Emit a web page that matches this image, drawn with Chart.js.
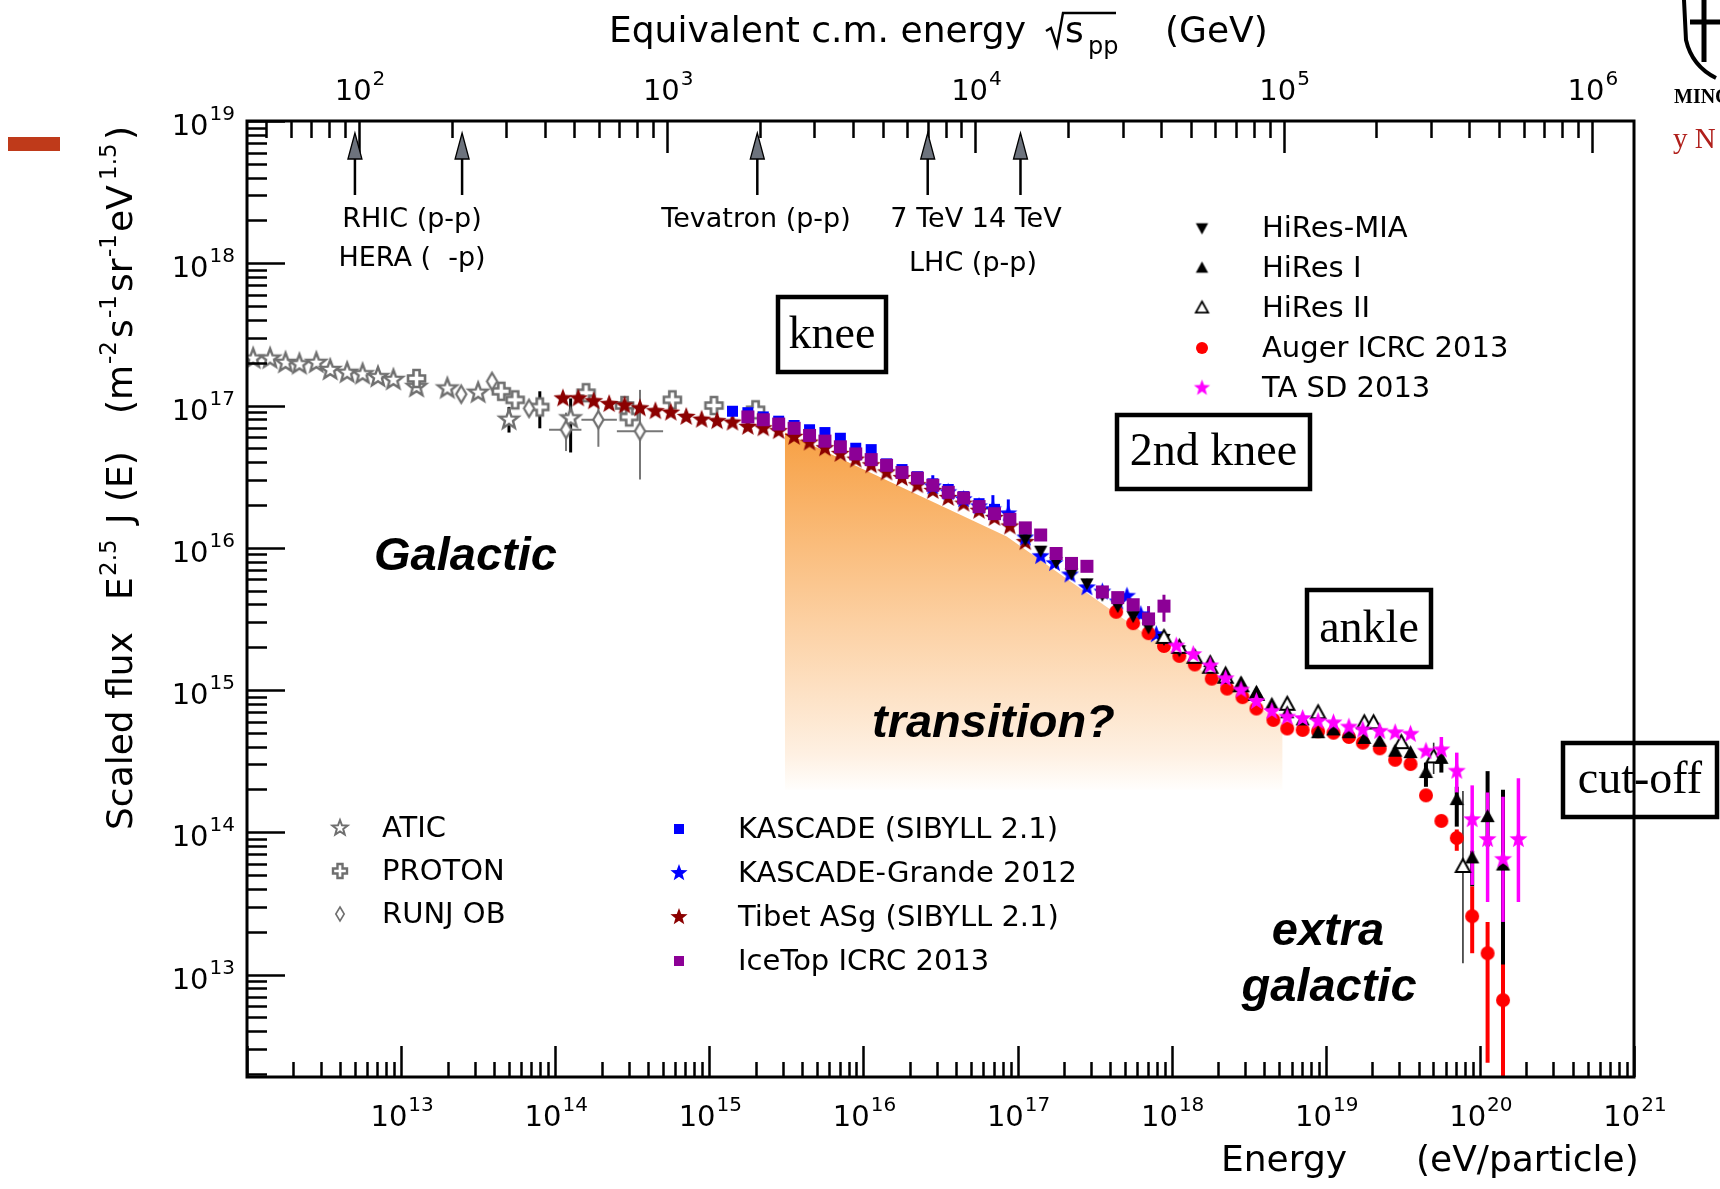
<!DOCTYPE html>
<html><head><meta charset="utf-8">
<script src="https://cdn.jsdelivr.net/npm/chart.js@4.4.1/dist/chart.umd.min.js"></script>
<style>html,body{margin:0;padding:0;background:#fff;}canvas{display:block}</style>
</head><body>
<canvas id="c" width="1720" height="1189"></canvas>
<script>
// ---------------- DATA (log10 values) ----------------
const X_RANGE_LOG = [12, 21];          // energy axis, log10(E/eV)
const Y_RANGE_LOG = [12.28, 19];       // scaled flux axis, log10
const PROTON_MASS_GEV = 0.938;
const BOTTOM_TICK_EXPONENTS = [13,14,15,16,17,18,19,20,21];
const LEFT_TICK_EXPONENTS = [13,14,15,16,17,18,19];
const TOP_TICK_EXPONENTS = [2,3,4,5,6];

const ATIC_logE = [12.04,12.15,12.25,12.34,12.45,12.54,12.65,12.75,12.85,12.95,13.10,13.30,13.50,13.70,14.10];
const ATIC_logF = [17.33,17.33,17.30,17.29,17.30,17.25,17.23,17.22,17.20,17.18,17.13,17.12,17.09,16.90,16.91];
const ATIC_errF = [null,null,null,null,null,null,null,null,null,null,null,null,[17.06,17.12],[16.81,16.99],[16.67,17.05]];

const PROTON_logE = [13.10,13.65,13.74,13.90,14.20,14.45,14.48,14.76,15.03,15.30];
const PROTON_logF = [17.19,17.10,17.04,16.99,17.09,17.00,16.92,17.04,17.00,16.97];
const PROTON_errF = [null,null,null,[16.84,17.10],null,null,null,null,null,null];

const RUNJOB_logE = [13.39,13.59,13.83,14.07,14.28,14.55];
const RUNJOB_logF = [17.08,17.17,16.98,16.83,16.90,16.82];
const RUNJOB_errE = [null,null,null,[13.96,14.17],[14.17,14.40],[14.40,14.70]];
const RUNJOB_errF = [null,null,null,[16.68,16.95],[16.71,17.00],[16.48,17.11]];

const TIBET_logE = [14.05,14.15,14.25,14.35,14.45,14.55,14.65,14.75,14.85,14.95,15.05,15.15,15.25,15.35,15.45,15.55,15.65,15.75,15.85,15.95,16.05,16.15,16.25,16.35,16.45,16.55,16.65,16.75,16.85,16.95,17.05];
const TIBET_logF = [17.05,17.05,17.03,17.01,17.00,16.98,16.96,16.95,16.92,16.90,16.89,16.88,16.85,16.84,16.82,16.78,16.74,16.70,16.66,16.62,16.58,16.53,16.49,16.44,16.40,16.35,16.31,16.26,16.21,16.15,16.04];

const KASCADE_logE = [15.15,15.25,15.35,15.45,15.55,15.65,15.75,15.85,15.95,16.05,16.15,16.25,16.35,16.45,16.55,16.65,16.75,16.85];
const KASCADE_logF = [16.96,16.95,16.92,16.89,16.86,16.83,16.81,16.77,16.70,16.69,16.59,16.55,16.50,16.45,16.41,16.36,16.31,16.27];

const KGRANDE_logE = [16.45,16.55,16.65,16.75,16.84,16.94,17.05,17.15,17.24,17.34,17.45,17.55,17.65,17.71,17.80,17.90];
const KGRANDE_logF = [16.43,16.39,16.34,16.29,16.27,16.24,16.07,15.94,15.89,15.81,15.72,15.69,15.62,15.66,15.53,15.39];
const KGRANDE_errF = [[16.40,16.51],null,null,null,[16.24,16.37],[16.21,16.34],null,null,null,null,null,null,null,null,null,null];

const ICETOP_logE = [15.25,15.35,15.45,15.55,15.65,15.75,15.85,15.95,16.05,16.15,16.25,16.35,16.45,16.55,16.65,16.75,16.85,16.95,17.05,17.15,17.25,17.35,17.45,17.55,17.65,17.75,17.85,17.95];
const ICETOP_logF = [16.92,16.90,16.87,16.84,16.79,16.75,16.71,16.66,16.62,16.58,16.53,16.49,16.44,16.39,16.35,16.29,16.24,16.20,16.14,16.09,15.96,15.89,15.87,15.69,15.65,15.60,15.50,15.59];
const ICETOP_errF = [null,null,null,null,null,null,null,null,null,null,null,null,null,null,null,null,null,null,null,null,null,null,null,null,null,null,[15.40,15.59],[15.48,15.67]];

const HIRESMIA_logE = [17.05,17.15,17.25,17.35,17.45,17.55,17.65,17.75,17.85,17.95,18.05];
const HIRESMIA_logF = [16.06,15.98,15.90,15.82,15.75,15.67,15.59,15.52,15.44,15.36,15.28];

const HIRES1_logE = [18.25,18.35,18.45,18.55,18.65,18.75,18.85,18.95,19.05,19.15,19.25,19.35,19.45,19.55,19.65,19.75,19.85,19.95,20.05,20.15];
const HIRES1_logF = [15.20,15.12,15.05,14.98,14.90,14.84,14.79,14.70,14.72,14.70,14.66,14.64,14.57,14.56,14.42,14.52,14.23,13.82,14.11,13.77];
const HIRES1_errF = [null,null,null,null,null,null,null,null,null,null,null,null,null,null,[14.32,14.49],[14.42,14.58],[14.04,14.32],[13.62,13.87],[13.90,14.43],[13.06,14.30]];

const HIRES2_logE = [17.95,18.05,18.15,18.25,18.35,18.45,18.55,18.75,18.95,19.25,19.31,19.49,19.70,19.89];
const HIRES2_logF = [15.37,15.30,15.23,15.16,15.09,15.03,14.97,14.90,14.84,14.77,14.77,14.63,14.53,13.76];
const HIRES2_errF = [null,null,null,null,null,null,null,null,null,null,null,null,[14.41,14.63],[13.08,14.29]];

const AUGER_logE = [17.64,17.75,17.85,17.95,18.05,18.15,18.26,18.36,18.46,18.55,18.66,18.75,18.85,18.95,19.05,19.15,19.24,19.35,19.45,19.55,19.65,19.75,19.85,19.95,20.05,20.15];
const AUGER_logF = [15.55,15.47,15.40,15.31,15.24,15.18,15.08,15.01,14.95,14.87,14.79,14.73,14.72,14.71,14.70,14.67,14.63,14.59,14.51,14.48,14.26,14.08,13.96,13.41,13.15,12.82];
const AUGER_errF = [null,null,null,null,null,null,null,null,null,null,null,null,null,null,null,null,null,null,null,null,null,[14.05,14.12],[13.87,14.02],[13.15,13.62],[12.38,13.37],[12.0,13.07]];

const TASD_logE = [18.03,18.14,18.25,18.35,18.45,18.55,18.65,18.75,18.85,18.95,19.05,19.15,19.24,19.35,19.45,19.55,19.65,19.75,19.85,19.95,20.05,20.15,20.25];
const TASD_logF = [15.31,15.25,15.17,15.08,15.00,14.92,14.85,14.81,14.80,14.78,14.77,14.74,14.72,14.71,14.70,14.69,14.57,14.58,14.43,14.09,13.95,13.81,13.95];
const TASD_errF = [null,null,null,null,null,null,null,null,null,null,null,null,null,null,null,null,null,[14.49,14.67],[14.28,14.56],[13.63,14.33],[13.51,14.28],[13.37,14.25],[13.51,14.38]];

// shaded "transition?" region: upper edge and floor
const SHADE_logE = [15.49,16.93,17.86,18.72];
const SHADE_logF = [16.81,16.08,15.37,14.77];
const SHADE_FLOOR_LOG = 14.30;

// accelerator energies, sqrt(s) in GeV
const ACCEL_SQRTS = [97, 216, 1960, 7000, 14000];

// ---------------- helpers ----------------
const p10 = v => Math.pow(10, v);
function marker(shape, d, fill, stroke, lw) {
  lw = lw || 0;
  const pad = Math.ceil(lw) + 2, S = Math.ceil(d) + 2 * pad;
  const c = document.createElement('canvas'); c.width = S; c.height = S;
  const g = c.getContext('2d'); g.translate(S / 2, S / 2);
  const r = d / 2; g.beginPath();
  if (shape === 'star') { for (let i = 0; i < 10; i++) { const a = -Math.PI / 2 + i * Math.PI / 5, rr = i % 2 ? r * 0.42 : r; g.lineTo(rr * Math.cos(a), rr * Math.sin(a)); } g.closePath(); }
  else if (shape === 'square') g.rect(-r, -r, d, d);
  else if (shape === 'circle') g.arc(0, 0, r, 0, 2 * Math.PI);
  else if (shape === 'tri') { g.moveTo(0, -r); g.lineTo(r * 0.95, r * 0.72); g.lineTo(-r * 0.95, r * 0.72); g.closePath(); }
  else if (shape === 'tridown') { g.moveTo(0, r); g.lineTo(r * 0.95, -r * 0.72); g.lineTo(-r * 0.95, -r * 0.72); g.closePath(); }
  else if (shape === 'diamond') { g.moveTo(0, -r); g.lineTo(r * 0.6, 0); g.lineTo(0, r); g.lineTo(-r * 0.6, 0); g.closePath(); }
  else if (shape === 'plus') { const w = r * 0.36; g.moveTo(-w, -r); g.lineTo(w, -r); g.lineTo(w, -w); g.lineTo(r, -w); g.lineTo(r, w); g.lineTo(w, w); g.lineTo(w, r); g.lineTo(-w, r); g.lineTo(-w, w); g.lineTo(-r, w); g.lineTo(-r, -w); g.lineTo(-w, -w); g.closePath(); }
  if (fill) { g.fillStyle = fill; g.fill(); }
  if (stroke) { g.lineWidth = lw; g.strokeStyle = stroke; g.stroke(); }
  return c;
}
const GRAY = '#6f6f6f';
const SERIES = [
  {label:'ATIC', e:ATIC_logE, f:ATIC_logF, ef:ATIC_errF, m:['star',20,'#fff',GRAY,2.4], lm:['star',16,'#fff',GRAY,2], ec:'#000', ew:3, order:12},
  {label:'PROTON', e:PROTON_logE, f:PROTON_logF, ef:PROTON_errF, m:['plus',17,'#fff',GRAY,2.6], lm:['plus',14,'#fff',GRAY,2.4], ec:'#000', ew:3, order:11},
  {label:'RUNJ OB', e:RUNJOB_logE, f:RUNJOB_logF, ef:RUNJOB_errF, ee:RUNJOB_errE, m:['diamond',17,'#fff',GRAY,2.2], lm:['diamond',14,'#fff',GRAY,1.6], ec:'#777', ew:2, order:10},
  {label:'KASCADE (SIBYLL 2.1)', e:KASCADE_logE, f:KASCADE_logF, m:['square',11,'#0000ff'], lm:['square',10,'#0000ff'], order:8},
  {label:'KASCADE-Grande 2012', e:KGRANDE_logE, f:KGRANDE_logF, ef:KGRANDE_errF, m:['star',19,'#0000ff'], lm:['star',18,'#0000ff'], ec:'#0000ff', ew:3, order:7},
  {label:'Tibet ASg (SIBYLL 2.1)', e:TIBET_logE, f:TIBET_logF, m:['star',20,'#8b0000'], lm:['star',18,'#8b0000'], order:9},
  {label:'IceTop ICRC 2013', e:ICETOP_logE, f:ICETOP_logF, ef:ICETOP_errF, m:['square',13,'#8c0096'], lm:['square',10,'#8c0096'], ec:'#8c0096', ew:3, order:1},
  {label:'HiRes-MIA', e:HIRESMIA_logE, f:HIRESMIA_logF, m:['tridown',14,'#000'], lm:['tridown',13,'#000'], order:5},
  {label:'HiRes I', e:HIRES1_logE, f:HIRES1_logF, ef:HIRES1_errF, m:['tri',15,'#000'], lm:['tri',13,'#000'], ec:'#000', ew:4, order:3},
  {label:'HiRes II', e:HIRES2_logE, f:HIRES2_logF, ef:HIRES2_errF, m:['tri',15,'#fff','#000',2], lm:['tri',13,'#fff','#000',1.8], ec:'#333', ew:1.6, order:4},
  {label:'Auger ICRC 2013', e:AUGER_logE, f:AUGER_logF, ef:AUGER_errF, m:['circle',14,'#ff0000'], lm:['circle',12,'#ff0000'], ec:'#ff0000', ew:4, order:6},
  {label:'TA SD 2013', e:TASD_logE, f:TASD_logF, ef:TASD_errF, m:['star',19,'#ff00ff'], lm:['star',17,'#ff00ff'], ec:'#ff00ff', ew:3.5, order:2}
];
const LEGENDS = [
  {x:340, tx:382, y0:828, dy:43, items:['ATIC','PROTON','RUNJ OB']},
  {x:679, tx:738, y0:829, dy:44, items:['KASCADE (SIBYLL 2.1)','KASCADE-Grande 2012','Tibet ASg (SIBYLL 2.1)','IceTop ICRC 2013']},
  {x:1202, tx:1262, y0:228, dy:40, items:['HiRes-MIA','HiRes I','HiRes II','Auger ICRC 2013','TA SD 2013']}
];

const datasets = SERIES.map(s => ({
  label: s.label,
  data: s.e.map((v, i) => ({x: p10(v), y: p10(s.f[i])})),
  pointStyle: marker.apply(null, s.m),
  pointRadius: 6, pointHoverRadius: 6, showLine: false, order: s.order,
  errF: s.ef ? s.ef.map(p => p ? [p10(p[0]), p10(p[1])] : null) : null,
  errE: s.ee ? s.ee.map(p => p ? [p10(p[0]), p10(p[1])] : null) : null,
  errColor: s.ec, errWidth: s.ew
}));
datasets.push({
  type: 'line', label: 'transition',
  data: SHADE_logE.map((v, i) => ({x: p10(v), y: p10(SHADE_logF[i])})),
  fill: {value: p10(SHADE_FLOOR_LOG)}, borderWidth: 0, pointRadius: 0, tension: 0, order: 100,
  backgroundColor(ctx) {
    const ch = ctx.chart; if (!ch.chartArea || !ch.scales.y) return 'rgba(250,190,130,0.8)';
    const y = ch.scales.y;
    const t = y.getPixelForValue(p10(Math.max.apply(null, SHADE_logF)));
    const b = y.getPixelForValue(p10(SHADE_FLOOR_LOG));
    const g = ch.ctx.createLinearGradient(0, t, 0, b);
    g.addColorStop(0, 'rgb(247,160,68)');
    g.addColorStop(0.53, 'rgb(252,208,162)');
    g.addColorStop(0.9, 'rgb(254,240,226)');
    g.addColorStop(1, 'rgb(255,254,252)');
    return g;
  }
});

// ---------------- drawing plugin ----------------
const SANS = '"DejaVu Sans", sans-serif';
function rich(ctx, x, y, parts) {
  let cx = x;
  for (const p of parts) { ctx.font = p.f; ctx.fillText(p.t, cx, y + (p.dy || 0)); cx += ctx.measureText(p.t).width + (p.dx || 0); }
  return cx - x;
}
function richWidth(ctx, parts) { let w = 0; for (const p of parts) { ctx.font = p.f; w += ctx.measureText(p.t).width + (p.dx || 0); } return w; }
function powLabel(ctx, exp, x, y, align) {
  const parts = [{t:'10', f:'29px ' + SANS, dx:1}, {t:String(exp), f:'20px ' + SANS, dy:-15}];
  const w = richWidth(ctx, parts);
  const x0 = align === 'center' ? x - w / 2 : (align === 'right' ? x - w : x);
  rich(ctx, x0, y, parts);
}
function logTicks(minV, maxV) {
  const out = [];
  for (let e = Math.floor(Math.log10(minV)) ; e <= Math.ceil(Math.log10(maxV)); e++)
    for (let k = 1; k < 10; k++) { const v = k * Math.pow(10, e); if (v >= minV * 0.9999 && v <= maxV * 1.0001) out.push({v, major: k === 1}); }
  return out;
}

const deco = {
  id: 'deco',
  beforeDatasetsDraw(chart) {
    const {ctx, chartArea: a, scales: {x, y}} = chart;
    ctx.save(); ctx.beginPath(); ctx.rect(a.left, a.top, a.width, a.height); ctx.clip();
    chart.data.datasets.forEach(ds => {
      if (!ds.errF && !ds.errE) return;
      ctx.strokeStyle = ds.errColor; ctx.lineWidth = ds.errWidth; ctx.lineCap = 'butt';
      ds.data.forEach((pt, i) => {
        const px = x.getPixelForValue(pt.x), py = y.getPixelForValue(pt.y);
        if (ds.errF && ds.errF[i]) { ctx.beginPath(); ctx.moveTo(px, y.getPixelForValue(ds.errF[i][0])); ctx.lineTo(px, y.getPixelForValue(ds.errF[i][1])); ctx.stroke(); }
        if (ds.errE && ds.errE[i]) { ctx.beginPath(); ctx.moveTo(x.getPixelForValue(ds.errE[i][0]), py); ctx.lineTo(x.getPixelForValue(ds.errE[i][1]), py); ctx.stroke(); }
      });
    });
    ctx.restore();
  },
  afterDatasetsDraw(chart) {
    const {ctx, chartArea: a, scales: {x, x2, y}} = chart;
    ctx.save();
    ctx.strokeStyle = '#000'; ctx.lineWidth = 2.5; ctx.lineCap = 'butt';
    ctx.beginPath();
    logTicks(x.min, x.max).forEach(t => { const px = Math.round(x.getPixelForValue(t.v)) + 0.5; ctx.moveTo(px, a.bottom); ctx.lineTo(px, a.bottom - (t.major ? 31 : 15)); });
    logTicks(x2.min, x2.max).forEach(t => { const px = Math.round(x2.getPixelForValue(t.v)) + 0.5; ctx.moveTo(px, a.top); ctx.lineTo(px, a.top + (t.major ? 32 : 17)); });
    logTicks(y.min, y.max).forEach(t => { const py = Math.round(y.getPixelForValue(t.v)) + 0.5; ctx.moveTo(a.left, py); ctx.lineTo(a.left + (t.major ? 38 : 20), py); });
    ctx.stroke();
    ctx.lineWidth = 3;
    ctx.strokeRect(a.left, a.top, a.width, a.height);
    // accelerator arrows
    ACCEL_SQRTS.forEach(s => {
      const px = x2.getPixelForValue(s);
      ctx.beginPath(); ctx.moveTo(px, 158); ctx.lineTo(px, 195); ctx.lineWidth = 2.5; ctx.strokeStyle = '#000'; ctx.stroke();
      ctx.beginPath(); ctx.moveTo(px, 133); ctx.lineTo(px + 7, 159); ctx.lineTo(px - 7, 159); ctx.closePath();
      ctx.fillStyle = '#6d737d'; ctx.fill(); ctx.lineWidth = 1.3; ctx.stroke();
    });
    ctx.restore();
  },
  afterDraw(chart) {
    const {ctx, chartArea: a, scales: {x, x2, y}} = chart;
    ctx.save();
    ctx.fillStyle = '#000'; ctx.textBaseline = 'alphabetic'; ctx.textAlign = 'left';
    // tick labels
    BOTTOM_TICK_EXPONENTS.forEach(e => powLabel(ctx, e, x.getPixelForValue(p10(e)) + 1, 1126, 'center'));
    LEFT_TICK_EXPONENTS.forEach(e => powLabel(ctx, e, 235, y.getPixelForValue(p10(e)) + 14, 'right'));
    TOP_TICK_EXPONENTS.forEach(e => powLabel(ctx, e, x2.getPixelForValue(p10(e)) + 1, 100, 'center'));
    // axis titles
    const B = '36px ' + SANS, S = '23px ' + SANS;
    rich(ctx, 609, 42, [{t:'Equivalent c.m. energy', f:B}]);
    ctx.beginPath(); ctx.lineWidth = 2.4; ctx.strokeStyle = '#000';
    ctx.moveTo(1046, 31); ctx.lineTo(1051, 28); ctx.lineTo(1057, 46); ctx.lineTo(1063, 13); ctx.lineTo(1116, 13); ctx.stroke();
    rich(ctx, 1065, 42, [{t:'s', f:B}]);
    rich(ctx, 1088, 54, [{t:'pp', f:'24px ' + SANS}]);
    rich(ctx, 1165, 42, [{t:'(GeV)', f:B}]);
    rich(ctx, 1221, 1171, [{t:'Energy', f:B}]);
    rich(ctx, 1416, 1171, [{t:'(eV/particle)', f:B}]);
    // rotated y title: pieces placed along the baseline (distance from bottom end)
    ctx.save(); ctx.translate(132, 830); ctx.rotate(-Math.PI / 2);
    const SUP = -16;
    [[0,'Scaled flux',B,0],[230,'E',B,0],[254,'2.5',S,SUP],[306,'J (E)',B,0],[416,'(m',B,0],[466,'-2',S,SUP],
     [492,'s',B,0],[512,'-1',S,SUP],[538,'sr',B,0],[573,'-1',S,SUP],[598,'eV',B,0],[650,'1.5',S,SUP],[690,')',B,0]]
      .forEach(p => { ctx.font = p[2]; ctx.fillText(p[1], p[0], p[3]); });
    ctx.restore();
    // accelerator labels
    ctx.font = '27px ' + SANS; ctx.textAlign = 'center';
    ctx.fillText('RHIC (p-p)', 412, 227);
    ctx.fillText('HERA (  -p)', 412, 266);
    ctx.fillText('Tevatron (p-p)', 756, 227);
    ctx.fillText('7 TeV 14 TeV', 976, 227);
    ctx.fillText('LHC (p-p)', 973, 271);
    // boxed labels
    const SERIF = '46px "Liberation Serif", "Times New Roman", serif';
    [[778,297,886,372,'knee'],[1117,415,1310,489,'2nd knee'],[1307,590,1431,667,'ankle'],[1563,743,1717,817,'cut-off']].forEach(b => {
      ctx.lineWidth = 4.5; ctx.strokeStyle = '#000'; ctx.strokeRect(b[0], b[1], b[2] - b[0], b[3] - b[1]);
      ctx.font = SERIF; ctx.textBaseline = 'middle'; ctx.fillText(b[4], (b[0] + b[2]) / 2, (b[1] + b[3]) / 2 + 1);
    });
    // region labels
    ctx.font = 'italic bold 47px "Liberation Sans", Arial, sans-serif'; ctx.textBaseline = 'middle';
    ctx.textAlign = 'left'; ctx.fillText('Galactic', 374, 557); ctx.fillText('transition?', 872, 724);
    ctx.textAlign = 'center'; ctx.fillText('extra', 1328, 932); ctx.fillText('galactic', 1329, 988);
    // legends
    ctx.textAlign = 'left'; ctx.textBaseline = 'middle'; ctx.font = '29px ' + SANS;
    LEGENDS.forEach(L => L.items.forEach((name, i) => {
      const s = SERIES.find(q => q.label === name); const img = marker.apply(null, s.lm);
      const yy = L.y0 + i * L.dy;
      ctx.drawImage(img, L.x - img.width / 2, yy - img.height / 2);
      ctx.fillStyle = '#000'; ctx.fillText(name, L.tx, yy + 1);
    }));
    // slide decorations
    ctx.fillStyle = '#bf3a1a'; ctx.fillRect(8, 137, 52, 14);
    ctx.fillStyle = '#b0201c'; ctx.font = '29px "Liberation Serif", serif'; ctx.textBaseline = 'alphabetic'; ctx.fillText('y N', 1673, 148);
    ctx.fillStyle = '#000'; ctx.font = 'bold 20px "Liberation Serif", serif'; ctx.fillText('MINC', 1674, 103);
    ctx.lineWidth = 4; ctx.beginPath(); ctx.moveTo(1684, 0); ctx.lineTo(1686, 40); ctx.quadraticCurveTo(1692, 66, 1716, 78); ctx.stroke();
    ctx.lineWidth = 5; ctx.beginPath(); ctx.moveTo(1704, 0); ctx.lineTo(1704, 62); ctx.moveTo(1690, 22); ctx.lineTo(1720, 22); ctx.stroke();
    ctx.restore();
  }
};

new Chart(document.getElementById('c'), {
  type: 'scatter',
  data: {datasets},
  options: {
    responsive: false, animation: false, events: [], devicePixelRatio: 1,
    layout: {padding: {left: 247, top: 121, right: 86, bottom: 112}},
    plugins: {legend: {display: false}, tooltip: {enabled: false}},
    scales: {
      x: {type: 'logarithmic', min: p10(X_RANGE_LOG[0]), max: p10(X_RANGE_LOG[1]), display: false},
      x2: {type: 'logarithmic', position: 'top', display: false,
           min: Math.sqrt(2 * PROTON_MASS_GEV * p10(X_RANGE_LOG[0]) / 1e9),
           max: Math.sqrt(2 * PROTON_MASS_GEV * p10(X_RANGE_LOG[1]) / 1e9)},
      y: {type: 'logarithmic', min: p10(Y_RANGE_LOG[0]), max: p10(Y_RANGE_LOG[1]), display: false}
    }
  },
  plugins: [deco]
});
</script>
</body></html>
